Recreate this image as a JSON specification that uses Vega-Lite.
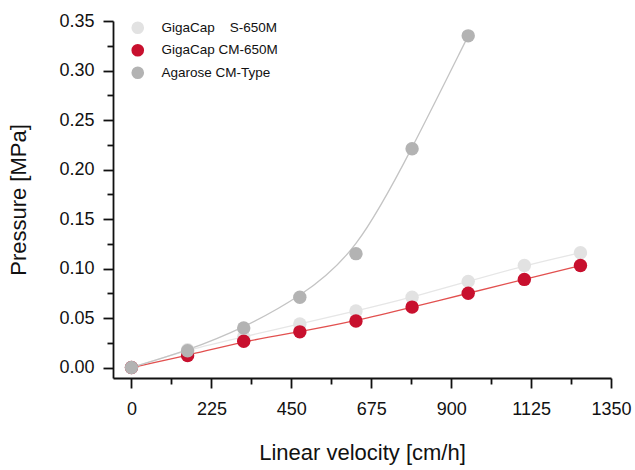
{
  "$schema": "https://vega.github.io/schema/vega-lite/v6.json",
  "width": 498,
  "height": 357,
  "autosize": "none",
  "padding": {"left": 113, "top": 21, "right": 24, "bottom": 92},
  "background": "white",
  "config": {
    "view": {"stroke": null},
    "font": "Liberation Sans",
    "axis": {
      "domainColor": "#111111",
      "domainWidth": 1.8,
      "tickColor": "#111111",
      "tickWidth": 1.8,
      "grid": false,
      "labelFont": "Liberation Sans",
      "labelFontSize": 18,
      "labelColor": "#111111",
      "titleFont": "Liberation Sans",
      "titleFontSize": 22,
      "titleFontWeight": "normal",
      "titleColor": "#111111"
    }
  },
  "data": {
    "values": [
      {"series": "GigaCap\u00a0\u00a0\u00a0\u00a0S-650M", "velocity": 0, "pressure": 0.0},
      {"series": "GigaCap\u00a0\u00a0\u00a0\u00a0S-650M", "velocity": 158, "pressure": 0.018},
      {"series": "GigaCap\u00a0\u00a0\u00a0\u00a0S-650M", "velocity": 316, "pressure": 0.031},
      {"series": "GigaCap\u00a0\u00a0\u00a0\u00a0S-650M", "velocity": 474, "pressure": 0.044},
      {"series": "GigaCap\u00a0\u00a0\u00a0\u00a0S-650M", "velocity": 632, "pressure": 0.057},
      {"series": "GigaCap\u00a0\u00a0\u00a0\u00a0S-650M", "velocity": 790, "pressure": 0.071},
      {"series": "GigaCap\u00a0\u00a0\u00a0\u00a0S-650M", "velocity": 948, "pressure": 0.087},
      {"series": "GigaCap\u00a0\u00a0\u00a0\u00a0S-650M", "velocity": 1106, "pressure": 0.103},
      {"series": "GigaCap\u00a0\u00a0\u00a0\u00a0S-650M", "velocity": 1264, "pressure": 0.116},
      {"series": "GigaCap CM-650M", "velocity": 0, "pressure": 0.0},
      {"series": "GigaCap CM-650M", "velocity": 158, "pressure": 0.012},
      {"series": "GigaCap CM-650M", "velocity": 316, "pressure": 0.0265},
      {"series": "GigaCap CM-650M", "velocity": 474, "pressure": 0.036},
      {"series": "GigaCap CM-650M", "velocity": 632, "pressure": 0.047},
      {"series": "GigaCap CM-650M", "velocity": 790, "pressure": 0.061},
      {"series": "GigaCap CM-650M", "velocity": 948, "pressure": 0.075},
      {"series": "GigaCap CM-650M", "velocity": 1106, "pressure": 0.089},
      {"series": "GigaCap CM-650M", "velocity": 1264, "pressure": 0.103},
      {"series": "Agarose CM-Type", "velocity": 0, "pressure": 0.0},
      {"series": "Agarose CM-Type", "velocity": 158, "pressure": 0.017},
      {"series": "Agarose CM-Type", "velocity": 316, "pressure": 0.040},
      {"series": "Agarose CM-Type", "velocity": 474, "pressure": 0.071},
      {"series": "Agarose CM-Type", "velocity": 632, "pressure": 0.115},
      {"series": "Agarose CM-Type", "velocity": 790, "pressure": 0.221},
      {"series": "Agarose CM-Type", "velocity": 948, "pressure": 0.335}
    ]
  },
  "encoding": {
    "x": {
      "field": "velocity",
      "type": "quantitative",
      "scale": {"domain": [-52, 1350], "nice": false, "zero": false},
      "axis": {
        "title": "Linear velocity [cm/h]",
        "values": [0, 112.5, 225, 337.5, 450, 562.5, 675, 787.5, 900, 1012.5, 1125, 1237.5, 1350],
        "format": "d",
        "labelExpr": "datum.value % 225 === 0 ? datum.label : ''",
        "tickSize": {"condition": {"test": "datum.value % 225 === 0", "value": 10}, "value": 6},
        "labelPadding": 12,
        "titlePadding": 24,
        "labelFlush": false
      }
    },
    "y": {
      "field": "pressure",
      "type": "quantitative",
      "scale": {"domain": [-0.0106, 0.35], "nice": false, "zero": false},
      "axis": {
        "title": "Pressure [MPa]",
        "values": [0, 0.025, 0.05, 0.075, 0.1, 0.125, 0.15, 0.175, 0.2, 0.225, 0.25, 0.275, 0.3, 0.325, 0.35],
        "format": ".2f",
        "labelExpr": "round(datum.value * 1000) % 50 === 0 ? datum.label : ''",
        "tickSize": {"condition": {"test": "round(datum.value * 1000) % 50 === 0", "value": 10}, "value": 6},
        "labelPadding": 9,
        "titlePadding": 28,
        "labelFlush": false
      }
    }
  },
  "layer": [
    {
      "mark": {"type": "line", "interpolate": "basis", "strokeWidth": 1.3},
      "encoding": {
        "color": {
          "field": "series",
          "type": "nominal",
          "scale": {
            "domain": ["GigaCap\u00a0\u00a0\u00a0\u00a0S-650M", "GigaCap CM-650M", "Agarose CM-Type"],
            "range": ["#e6e6e6", "#e2504f", "#c4c4c4"]
          },
          "legend": null
        }
      }
    },
    {
      "mark": {"type": "point", "filled": true, "opacity": 1, "size": 180},
      "encoding": {
        "color": {
          "field": "series",
          "type": "nominal",
          "scale": {
            "domain": ["GigaCap\u00a0\u00a0\u00a0\u00a0S-650M", "GigaCap CM-650M", "Agarose CM-Type"],
            "range": ["#e2e2e2", "#c8102e", "#b3b3b3"]
          },
          "legend": {
            "title": null,
            "orient": "none",
            "legendX": 18,
            "legendY": 0,
            "padding": 0,
            "symbolType": "circle",
            "symbolSize": 160,
            "symbolStrokeWidth": 0,
            "labelFont": "Liberation Sans",
            "labelFontSize": 13.5,
            "labelColor": "#111111",
            "labelOffset": 17,
            "rowPadding": 7.5,
            "labelLimit": 300
          }
        }
      }
    }
  ],
  "resolve": {"scale": {"color": "independent"}}
}
